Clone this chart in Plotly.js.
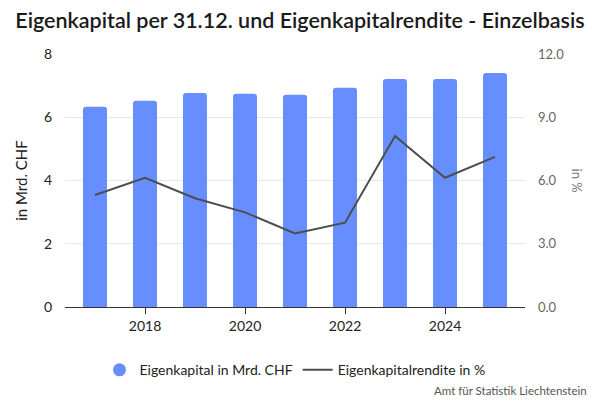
<!DOCTYPE html>
<html>
<head>
<meta charset="utf-8">
<script src="https://cdn.plot.ly/plotly-3.0.1.min.js"></script>
<style>html,body{margin:0;padding:0;background:#fff;}#chart{width:600px;height:400px;}</style>
</head>
<body>
<div id="chart"></div>
<script>
var years = [2017, 2018, 2019, 2020, 2021, 2022, 2023, 2024, 2025];
var eigenkapital = [6.33, 6.52, 6.77, 6.74, 6.71, 6.93, 7.21, 7.21, 7.40];
var rendite = [5.31, 6.13, 5.16, 4.49, 3.49, 4.0, 8.11, 6.13, 7.12];
var leftTicks = [0, 2, 4, 6, 8];
var rightTicks = [0, 3, 6, 9, 12];

var FONT = "Lato, 'Noto Sans', sans-serif";
var barColor = "#668eff";
var lineColor = "#4d4d4d";

var traces = [
  {
    type: "bar", x: years, y: eigenkapital, name: "Eigenkapital in Mrd. CHF",
    marker: {color: barColor}, width: 0.48, showlegend: false, yaxis: "y", hoverinfo: "x+y"
  },
  {
    type: "scatter", mode: "markers", x: [null], y: [null], name: "Eigenkapital in Mrd. CHF",
    marker: {color: barColor, size: 13, symbol: "circle"}, showlegend: true
  },
  {
    type: "scatter", mode: "lines", x: years, y: rendite, name: "Eigenkapitalrendite in %",
    line: {color: lineColor, width: 2}, yaxis: "y2"
  }
];

var layout = {
  width: 600, height: 400,
  margin: {l: 65, r: 75, t: 54, b: 93},
  paper_bgcolor: "#fff", plot_bgcolor: "#fff",
  font: {family: FONT, size: 14, color: "#222"},
  barcornerradius: 3,
  title: {
    text: "Eigenkapital per 31.12. und Eigenkapitalrendite - Einzelbasis",
    font: {family: FONT, size: 21.5, color: "#1a1a1a", weight: 600},
    x: 0.5, xanchor: "center", xref: "container", y: 0.95, yanchor: "middle", yref: "container"
  },
  xaxis: {
    range: [2016.4, 2025.6], tickmode: "array", tickvals: [2018, 2020, 2022, 2024],
    ticktext: ["2018", "2020", "2022", "2024"],
    ticks: "outside", ticklen: 6, tickcolor: "#333", tickwidth: 1,
    showline: true, linecolor: "#333", linewidth: 1, showgrid: false, zeroline: false,
    tickfont: {size: 14, color: "#222"}
  },
  yaxis: {
    range: [0, 8], tickmode: "array", tickvals: leftTicks, ticktext: leftTicks.map(String),
    showgrid: true, gridcolor: "#e6e6e6", zeroline: false, showline: false,
    ticks: "", ticklabelstandoff: 12, tickfont: {size: 14, color: "#222"},
    title: {text: "in Mrd. CHF", font: {size: 15, color: "#222"}, standoff: 12}
  },
  yaxis2: {
    range: [0, 12], overlaying: "y", side: "right", tickmode: "array", tickvals: rightTicks,
    ticktext: rightTicks.map(function(v){return v.toFixed(1);}),
    showgrid: false, zeroline: false, showline: false, ticks: "",
    ticklabelstandoff: 12, tickfont: {size: 13, color: "#666"}
  },
  legend: {
    orientation: "h", x: 0.5, xanchor: "center", xref: "paper", y: -0.25, yanchor: "middle",
    font: {size: 14, color: "#222"}, traceorder: "normal", itemwidth: 30
  },
  annotations: [
    {
      text: "in %", xref: "paper", yref: "paper", x: 1.115, y: 0.5, showarrow: false,
      textangle: 90, font: {size: 13, color: "#777"}, xanchor: "center", yanchor: "middle"
    },
    {
      text: "Amt für Statistik Liechtenstein", xref: "paper", yref: "paper",
      x: 1.14, y: -0.33, xanchor: "right", yanchor: "middle", showarrow: false,
      font: {size: 11.5, color: "#555"}
    }
  ]
};

Plotly.newPlot("chart", traces, layout, {displayModeBar: false, staticPlot: true});
</script>
</body>
</html>
